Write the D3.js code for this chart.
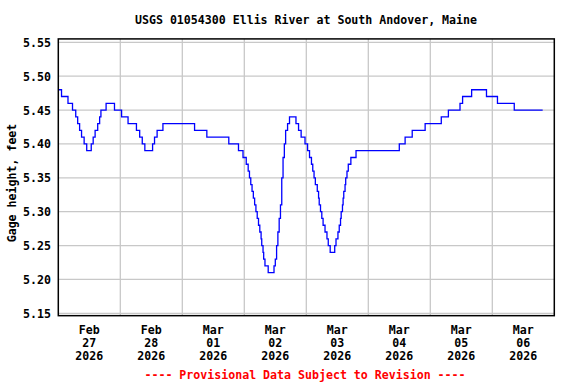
<!DOCTYPE html>
<html>
<head>
<meta charset="utf-8">
<script src="https://cdn.jsdelivr.net/npm/d3@7"></script>
<style>
  body { margin: 0; background: #fff; }
  text { font-family: "DejaVu Sans Mono", "Liberation Mono", monospace; font-weight: bold; }
</style>
</head>
<body>
<script>
// gage readings, hours after Feb 27 2026 00:00 where the value changes
const hours = [0, 1.25, 3.75, 5.5, 6.75, 7.5, 8.25, 9, 10, 11, 12.75, 13.5, 14.25, 15.25, 16, 16.5, 18.5, 21.75,
  24.5, 27, 30.25, 31.5, 32.5, 33.5, 36.5, 37.25, 38.25, 40.5, 52.75, 57.5, 66, 69.75, 71.5, 72.75, 73.5, 74,
  74.5, 75, 75.5, 76, 76.5, 77, 77.5, 78, 78.5, 78.75, 79.25, 79.5, 80, 81.25, 83.5, 84, 84.5, 85, 85.5, 86,
  86.5, 87, 87.5, 88, 88.75, 89.5, 92, 93, 94, 95.5, 96.5, 97.25, 98, 98.5, 99, 99.5, 100.25, 100.75, 101,
  101.5, 102, 102.5, 103.25, 104, 104.5, 105.25, 107, 107.5, 108.25, 108.75, 109.25, 109.5, 110, 110.25,
  110.5, 111, 111.25, 111.75, 112.25, 113.25, 115.25, 132, 134.25, 137, 142, 148.25, 151, 155.5, 156.5, 160,
  165.75, 170, 176.5, 187.5];
const values = [5.48, 5.47, 5.46, 5.45, 5.44, 5.43, 5.42, 5.41, 5.40, 5.39, 5.40, 5.41, 5.42, 5.43, 5.44, 5.45, 5.46, 5.45,
  5.44, 5.43, 5.42, 5.41, 5.40, 5.39, 5.40, 5.41, 5.42, 5.43, 5.42, 5.41, 5.40, 5.39, 5.38, 5.37, 5.36, 5.35,
  5.34, 5.33, 5.32, 5.31, 5.30, 5.29, 5.28, 5.27, 5.26, 5.25, 5.24, 5.23, 5.22, 5.21, 5.22, 5.23, 5.25, 5.27, 5.29, 5.31,
  5.35, 5.38, 5.40, 5.42, 5.43, 5.44, 5.43, 5.42, 5.41, 5.40, 5.39, 5.38, 5.37, 5.36, 5.35, 5.34, 5.33, 5.32, 5.31,
  5.30, 5.29, 5.28, 5.27, 5.26, 5.25, 5.24, 5.25, 5.26, 5.27, 5.28, 5.29, 5.30, 5.31, 5.32,
  5.33, 5.34, 5.35, 5.36, 5.37, 5.38, 5.39, 5.40, 5.41, 5.42, 5.43, 5.44, 5.45, 5.46, 5.47, 5.48,
  5.47, 5.46, 5.45, 5.45];
const yTicks = [5.15, 5.20, 5.25, 5.30, 5.35, 5.40, 5.45, 5.50, 5.55];
const dayMonths = ['Feb', 'Feb', 'Mar', 'Mar', 'Mar', 'Mar', 'Mar', 'Mar'];
const dayNums = ['27', '28', '01', '02', '03', '04', '05', '06'];
const dayYears = ['2026', '2026', '2026', '2026', '2026', '2026', '2026', '2026'];

const width = 576, height = 384;
const start = new Date(2026, 1, 27), end = new Date(2026, 2, 7);

const svg = d3.select('body').append('svg').attr('width', width).attr('height', height);

// scales
const x = d3.scaleTime().domain([start, end]).range([58.3, 554.3]);
const y = d3.scaleLinear().domain([5.15, 5.55]).range([313.3, 42.3]);
const frameTop = y(5.555), frameBottom = y(5.1465);

const data = hours.map((h, i) => ({ t: d3.timeMinute.offset(start, h * 60), v: values[i] }));
const days = d3.timeDay.range(start, end);

// grid
svg.append('g').selectAll('line').data(yTicks).join('line')
  .attr('x1', x.range()[0]).attr('x2', x.range()[1])
  .attr('y1', d => y(d)).attr('y2', d => y(d))
  .attr('stroke', '#c8c8c8').attr('stroke-width', 1.3);
svg.append('g').selectAll('line').data(days.slice(1)).join('line')
  .attr('x1', d => x(d)).attr('x2', d => x(d))
  .attr('y1', frameTop).attr('y2', frameBottom)
  .attr('stroke', '#c8c8c8').attr('stroke-width', 1.3);

// line
const line = d3.line().x(d => x(d.t)).y(d => y(d.v)).curve(d3.curveStepAfter);
svg.append('path').datum(data).attr('d', line)
  .attr('fill', 'none').attr('stroke', '#0000ff').attr('stroke-width', 1.3);

// frame
svg.append('rect').attr('x', x.range()[0]).attr('y', frameTop)
  .attr('width', x.range()[1] - x.range()[0]).attr('height', frameBottom - frameTop)
  .attr('fill', 'none').attr('stroke', '#000').attr('stroke-width', 1.5);

// y labels
svg.append('g').selectAll('text').data(yTicks).join('text')
  .attr('x', 51).attr('y', d => y(d) + 4.5).attr('text-anchor', 'end')
  .attr('font-size', 11.6).text(d => d.toFixed(2));

// x labels, centered on each day
const xl = svg.append('g').selectAll('g').data(days).join('g')
  .attr('transform', d => `translate(${x(d3.timeHour.offset(d, 12))},0)`);
xl.append('text').attr('y', 334.3).text((d, i) => dayMonths[i]);
xl.append('text').attr('y', 347).text((d, i) => dayNums[i]);
xl.append('text').attr('y', 360).text((d, i) => dayYears[i]);
xl.selectAll('text').attr('text-anchor', 'middle').attr('font-size', 11.6);

// titles
svg.append('text').attr('x', 306).attr('y', 24.2).attr('text-anchor', 'middle')
  .attr('font-size', 11.6).text('USGS 01054300 Ellis River at South Andover, Maine');
svg.append('text').attr('transform', 'translate(15.5,183) rotate(-90)').attr('text-anchor', 'middle')
  .attr('font-size', 11.6).text('Gage height, feet');
svg.append('text').attr('x', 305).attr('y', 379.2).attr('text-anchor', 'middle')
  .attr('font-size', 11.6).attr('fill', '#ff0000').text('---- Provisional Data Subject to Revision ----');
</script>
</body>
</html>
